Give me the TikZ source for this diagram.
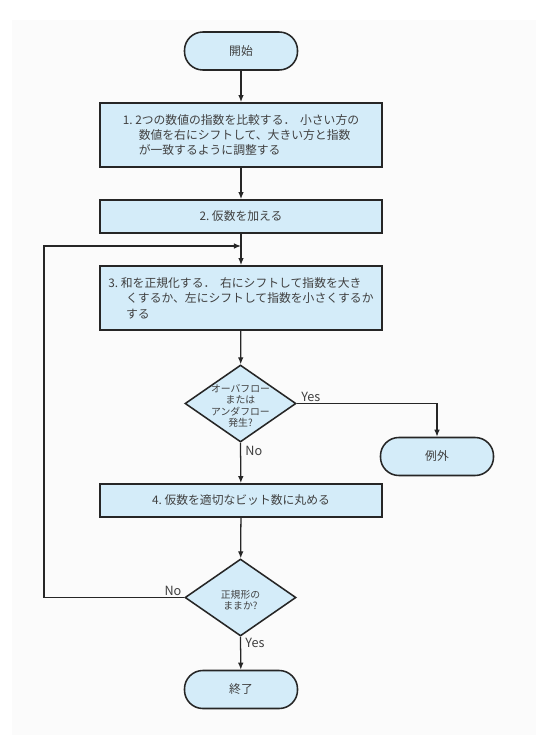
\documentclass[tikz,border=0pt]{standalone}
\usepackage{fontspec}
\setmainfont{Noto Sans CJK JP}
\usetikzlibrary{shapes.geometric, arrows.meta}

\definecolor{boxblue}{RGB}{212,236,249}
\definecolor{pagegray}{RGB}{251,251,251}

\tikzset{
  stepbox/.style={rectangle, draw=black!85, line width=1.3pt, fill=boxblue, minimum width=7.05cm, text=black!75, font=\fontsize{8.4}{11}\selectfont, align=left, inner sep=0pt},
  terminal/.style={rectangle, rounded corners=4.6mm, draw=black!85, line width=1.1pt, fill=boxblue, minimum width=2.825cm, minimum height=0.95cm, text=black!75, font=\fontsize{8.4}{10}\selectfont},
  decision/.style={diamond, aspect=1.44, draw=black!85, line width=1.1pt, fill=boxblue, minimum width=2.775cm, minimum height=1.925cm, inner sep=0pt},
  asktext/.style={align=center, text=black!75, font=\fontsize{7}{8.2}\selectfont, inner sep=0pt, yshift=-0.6mm},
  flow/.style={-{Latex[length=5pt,width=4pt]}, line width=0.9pt, draw=black!85},
  answer/.style={text=black!75, font=\fontsize{9}{11}\selectfont, inner sep=1pt}
}

\begin{document}
\begin{tikzpicture}[x=0.025cm, y=-0.025cm]
        \useasboundingbox (0,0) rectangle (536,735);
        \fill[pagegray] (12,20) rectangle (536,735);

        % Nodes
        \node[terminal] (start) at (241,51) {開始};
        \node[stepbox, minimum height=1.6cm] (step1) at (241,135)
            {1.\ 2つの数値の指数を比較する．\hspace{0.4em}小さい方の\\
             \hspace*{1.35em}数値を右にシフトして、大きい方と指数\\
             \hspace*{1.35em}が一致するように調整する};
        \node[stepbox, minimum height=0.825cm] (step2) at (241,216.5) {2.\ 仮数を加える};
        \coordinate (join) at (241,246);
        \node[stepbox, minimum height=1.6cm] (step3) at (241,298)
            {3.\ 和を正規化する．\hspace{0.4em}右にシフトして指数を大き\\
             \hspace*{1.5em}くするか、左にシフトして指数を小さくするか\\
             \hspace*{1.5em}する};
        \node[decision, label={[asktext]center:オーバフロー\\または\\アンダフロー\\発生?}] (check1) at (240.5,403.5) {};
        \node[terminal] (exception) at (437,456.5) {例外};
        \node[stepbox, minimum height=0.825cm] (step4) at (241,500.5) {4.\ 仮数を適切なビット数に丸める};
        \node[decision, label={[asktext]center:正規形の\\ままか?}] (check2) at (240.5,597.5) {};
        \node[terminal] (finish) at (241,689.5) {終了};
        \coordinate (loopx) at (44,0);

        % Edges
        \draw[flow] (start) -- (step1);
        \draw[flow] (step1) -- (step2);
        \draw[flow] (step2) -- (step3);
        \draw[flow] (step3) -- (check1);
        \draw[flow] (check1.east) -| node[answer, pos=0.05, above] {Yes} (exception.north);
        \draw[flow] (check1.south) -- node[answer, pos=0.2, right, xshift=2pt] {No} (step4);
        \draw[flow] (step4) -- (check2);
        \draw[flow] (check2.south) -- node[answer, pos=0.2, right, xshift=2pt] {Yes} (finish);
        \draw[flow] (check2.west) -- node[answer, pos=0.08, above] {No} (check2.west -| loopx) |- (join);

    \end{tikzpicture}
\end{document}
